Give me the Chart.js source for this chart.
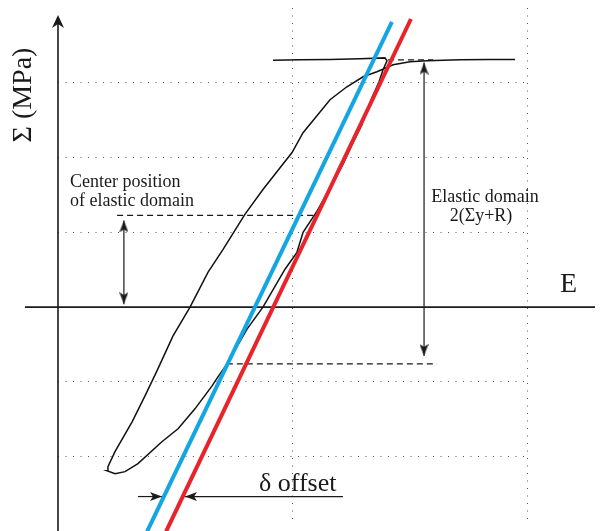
<!DOCTYPE html>
<html>
<head>
<meta charset="utf-8">
<script src="https://cdn.jsdelivr.net/npm/chart.js@4.4.0/dist/chart.umd.min.js"></script>
<style>
  html, body { margin: 0; padding: 0; background: #fff; }
  canvas { display: block; }
</style>
</head>
<body>
<canvas id="chart" width="600" height="531"></canvas>
<script>
// ---------- 1. Data (x = strain E, y = stress Σ, arbitrary grid units) ----------
const curveX = [0.917, 1.032, 1.160, 1.288, 1.394, 1.403, 1.386, 1.369, 1.335, 1.296, 1.254, 1.215, 1.173,
  1.104, 1.045, 1.019, 0.968, 0.874, 0.806, 0.721, 0.682, 0.657, 0.584, 0.512, 0.443, 0.341, 0.286, 0.243,
  0.209, 0.213, 0.243, 0.316, 0.371, 0.422, 0.490, 0.563, 0.640, 0.704, 0.797, 0.874, 0.998, 1.045, 1.160,
  1.232, 1.301, 1.360, 1.429, 1.501, 1.574, 1.714, 1.842, 1.949];
const curveY = [3.300, 3.307, 3.313, 3.320, 3.333, 3.293, 3.173, 3.013, 2.773, 2.440, 2.173, 1.907, 1.667,
  1.280, 1.000, 0.733, 0.507, 0.000, -0.293, -0.760, -0.933, -1.053, -1.360, -1.627, -1.800, -2.093, -2.200, -2.227,
  -2.187, -2.133, -1.933, -1.533, -1.187, -0.853, -0.387, 0.000, 0.467, 0.773, 1.240, 1.573, 2.067, 2.333, 2.773,
  2.947, 3.080, 3.147, 3.240, 3.280, 3.293, 3.307, 3.313, 3.313];

const blueX = [0.380, 1.424];
const blueY = [-3.0, 3.813];
const redX = [0.461, 1.505];
const redY = [-3.0, 3.853];

// grid ticks
const xGrid = [1, 2];
const yGrid = [-2, -1, 1, 2, 3];

// axes
const axisXX = [-0.141, 2.29], axisXY = [0, 0];
const axisYX = [0, 0], axisYY = [-3.0, 3.88];

// annotations: dashed levels and arrows
const centerLevel = 1.227, centerFrom = 0.252, centerTo = 1.104;
const topLevel = 3.307, topFrom = 1.407, topTo = 1.60;
const lowLevel = -0.76, lowFrom = 0.72, lowTo = 1.616;
const leftArrowX = 0.281, leftArrowY = [1.16, 0.04];
const rightArrowX = 1.561, rightArrowY = [3.27, -0.653];
const offsetY = -2.533, offsetLeft = [0.341, 0.4435], offsetRight = [0.5416, 1.215];

// ---------- 2. Helpers ----------
function pts(xs, ys) {
  return xs.map((x, i) => ({ x, y: ys[i] }));
}

function makeArrowHead(w, h, notch) {
  const c = document.createElement("canvas");
  c.width = w; c.height = h * 2;
  const g = c.getContext("2d");
  g.fillStyle = "#1a1a1a";
  g.beginPath();
  g.moveTo(w / 2, h);
  g.lineTo(w, h * 2);
  g.lineTo(w / 2, h * 2 - notch);
  g.lineTo(0, h * 2);
  g.closePath();
  g.fill();
  return c;
}

const bigHead = makeArrowHead(12, 13, 4);
const smallHead = makeArrowHead(9, 12, 3);

function lineSet(data, color, width, dash) {
  return {
    data, showLine: true, borderColor: color, borderWidth: width, borderDash: dash || [],
    pointRadius: 0, fill: false, tension: 0, clip: false
  };
}

// ---------- 3. Arrow heads (tip positions + direction) ----------
const headX = [0, 2.307, leftArrowX, leftArrowX, rightArrowX, rightArrowX, offsetLeft[1], offsetRight[0]];
const headY = [3.907, 0, leftArrowY[0], leftArrowY[1], rightArrowY[0], rightArrowY[1], offsetY, offsetY];
const headRot = [0, 90, 0, 180, 0, 180, 90, 270];
const headStyle = [bigHead, bigHead, smallHead, smallHead, smallHead, smallHead, smallHead, smallHead];

// ---------- 4. Text labels ----------
const labelsPlugin = {
  id: "labels",
  afterDatasetsDraw(chart) {
    const ctx = chart.ctx;
    ctx.save();
    ctx.fillStyle = "#1a1a1a";
    ctx.textBaseline = "alphabetic";

    ctx.font = "18px 'Liberation Serif'";
    ctx.textAlign = "left";
    ctx.fillText("Center position", 70, 187);
    ctx.fillText("of elastic domain", 70, 206);
    ctx.textAlign = "center";
    ctx.fillText("Elastic domain", 485, 202);
    ctx.fillText("2(Σy+R)", 481, 221);

    ctx.font = "28px 'Liberation Serif'";
    ctx.textAlign = "left";
    ctx.fillText("E", 560, 292);

    ctx.font = "26px 'Liberation Serif'";
    ctx.fillText("δ offset", 259, 491);

    ctx.font = "28px 'Liberation Serif'";
    ctx.translate(31, 95);
    ctx.rotate(-Math.PI / 2);
    ctx.textAlign = "center";
    ctx.fillText("Σ (MPa)", 0, 0);
    ctx.restore();
  }
};

// ---------- 5. Chart ----------
new Chart(document.getElementById("chart"), {
  type: "scatter",
  data: {
    datasets: [
      {
        data: pts(headX, headY), pointStyle: headStyle, rotation: headRot,
        pointRadius: 6, showLine: false, clip: false
      },
      lineSet(pts(blueX, blueY), "#14a6e3", 4),
      lineSet(pts(redX, redY), "#e8232b", 4),
      lineSet(pts(curveX, curveY), "#111", 1.5),
      lineSet(pts([centerFrom, centerTo], [centerLevel, centerLevel]), "#1a1a1a", 1.3, [6, 4]),
      lineSet(pts([topFrom, topTo], [topLevel, topLevel]), "#1a1a1a", 1.3, [6, 4]),
      lineSet(pts([lowFrom, lowTo], [lowLevel, lowLevel]), "#1a1a1a", 1.3, [6, 4]),
      lineSet(pts([leftArrowX, leftArrowX], leftArrowY), "#1a1a1a", 1.2),
      lineSet(pts([rightArrowX, rightArrowX], rightArrowY), "#1a1a1a", 1.2),
      lineSet(pts(offsetLeft, [offsetY, offsetY]), "#1a1a1a", 1.2),
      lineSet(pts(offsetRight, [offsetY, offsetY]), "#1a1a1a", 1.2),
      lineSet(pts(axisXX, axisXY), "#1a1a1a", 1.6),
      lineSet(pts(axisYX, axisYY), "#1a1a1a", 1.6)
    ]
  },
  options: {
    responsive: false,
    animation: false,
    layout: { padding: { left: 58, right: 73, top: 8, bottom: 6 } },
    plugins: { legend: { display: false }, tooltip: { enabled: false } },
    scales: {
      x: {
        type: "linear", min: 0, max: 2,
        afterBuildTicks: s => { s.ticks = xGrid.map(v => ({ value: v })); },
        ticks: { display: false },
        grid: { color: "#555", lineWidth: 1, drawTicks: false },
        border: { display: false, dash: [1, 6.5] }
      },
      y: {
        type: "linear", min: -2.9, max: 4,
        afterBuildTicks: s => { s.ticks = yGrid.map(v => ({ value: v })); },
        ticks: { display: false },
        grid: { color: "#555", lineWidth: 1, drawTicks: false },
        border: { display: false, dash: [1, 6.5] }
      }
    }
  },
  plugins: [labelsPlugin]
});
</script>
</body>
</html>
